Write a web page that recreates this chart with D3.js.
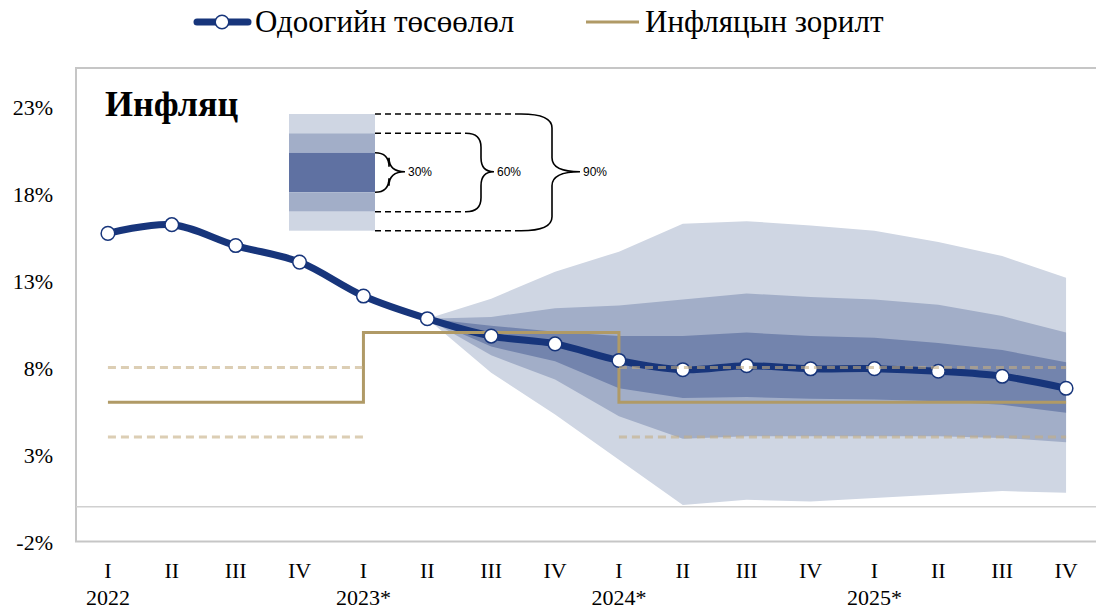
<!DOCTYPE html>
<html>
<head>
<meta charset="utf-8">
<script src="https://cdn.jsdelivr.net/npm/d3@7"></script>
<style>
  body { margin: 0; background: #fff; }
  svg { display: block; }
  text { font-family: "Liberation Serif", "Times New Roman", serif; fill: #000; }
</style>
</head>
<body>
<div id="chart"></div>
<script>
// quarters and year labels
let quarters = ["I", "II", "III", "IV", "I", "II", "III", "IV", "I", "II", "III", "IV", "I", "II", "III", "IV"];
let years = ["2022", "", "", "", "2023*", "", "", "", "2024*", "", "", "", "2025*", "", "", ""];

// current projection (%)
let forecast = [15.7, 16.2, 15.0, 14.05, 12.1, 10.8, 9.8, 9.35, 8.4, 7.87, 8.1, 7.92, 7.93, 7.78, 7.49, 6.8];

// inflation target and tolerance band (%)
let target = [6, 6, 6, 6, 10, 10, 10, 10, 6, 6, 6, 6, 6, 6, 6, 6];
let bandUpper = [8, 8, 8, 8, 8, null, null, null, 8, 8, 8, 8, 8, 8, 8, 8];
let bandLower = [4, 4, 4, 4, 4, null, null, null, 4, 4, 4, 4, 4, 4, 4, 4];

// fan chart, from 2023 II (index 5) to 2025 IV
let fanStart = 5;
let lo90 = [10.8, 7.7, 5.3, 2.7, 0.1, 0.4, 0.3, 0.5, 0.7, 0.9, 0.8];
let lo60 = [10.8, 8.7, 7.3, 5.2, 3.9, 4.05, 4.05, 4.05, 4.05, 3.95, 3.7];
let lo30 = [10.8, 9.2, 8.35, 6.8, 6.25, 6.3, 6.2, 6.15, 6.05, 5.85, 5.4];
let hi30 = [10.8, 10.4, 10.05, 9.8, 9.8, 10.0, 9.8, 9.7, 9.4, 9.0, 8.3];
let hi60 = [10.8, 10.9, 11.4, 11.55, 11.9, 12.25, 12.05, 11.9, 11.6, 10.95, 10.0];
let hi90 = [10.8, 11.95, 13.5, 14.65, 16.25, 16.4, 16.15, 15.85, 15.2, 14.4, 13.15];

let yTicks = [-2, 3, 8, 13, 18, 23];

let width = 1096, height = 609;
let plotLeft = 76, plotTop = 68, plotBottom = 541.5, plotRight = 1098;
let serif = "Liberation Serif";

let svg = d3.select("#chart").append("svg")
  .attr("width", width)
  .attr("height", height);

let idx = d3.range(quarters.length);

let x = d3.scalePoint()
  .domain(idx)
  .range([plotLeft, plotRight])
  .padding(0.5);

let y = d3.scaleLinear()
  .domain([-2, 25.2])
  .range([plotBottom, plotTop]);

// plot frame
svg.append("rect")
  .attr("x", plotLeft)
  .attr("y", plotTop)
  .attr("width", plotRight - plotLeft + 10)
  .attr("height", plotBottom - plotTop)
  .attr("fill", "none")
  .attr("stroke", "#c6c6c6")
  .attr("stroke-width", 2);

// zero line
svg.append("line")
  .attr("x1", plotLeft).attr("x2", plotRight)
  .attr("y1", y(0)).attr("y2", y(0))
  .attr("stroke", "#d0d0d0")
  .attr("stroke-width", 1.5);

// y axis labels
svg.append("g")
  .attr("transform", "translate(" + (plotLeft - 23) + ",0)")
  .call(d3.axisLeft(y).tickValues(yTicks).tickSize(0).tickFormat(d => d + "%"))
  .call(g => g.select(".domain").remove())
  .selectAll("text")
    .attr("x", 0)
    .attr("dy", "0.35em")
    .style("font-family", serif)
    .style("font-size", "22px")
    .style("fill", "#000");

// x axis labels
let xAxis = svg.append("g");
xAxis.selectAll(".q")
  .data(idx)
  .join("text")
    .attr("class", "q")
    .attr("x", d => x(d))
    .attr("y", 578)
    .attr("text-anchor", "middle")
    .style("font-family", serif)
    .style("font-size", "22px")
    .text(d => quarters[d]);
xAxis.selectAll(".yr")
  .data(idx.filter(d => years[d] !== ""))
  .join("text")
    .attr("class", "yr")
    .attr("x", d => x(d))
    .attr("y", 605)
    .attr("text-anchor", "middle")
    .style("font-family", serif)
    .style("font-size", "22px")
    .text(d => years[d]);

// fan chart
let fanIdx = d3.range(lo90.length);
function band(lo, hi, color) {
  let area = d3.area()
    .x(i => x(i + fanStart))
    .y0(i => y(lo[i]))
    .y1(i => y(hi[i]));
  svg.append("path")
    .datum(fanIdx)
    .attr("d", area)
    .attr("fill", color);
}
band(lo90, hi90, "#cfd6e3");
band(lo60, hi60, "#a2aec8");
band(lo30, hi30, "#7384ad");

// projection line
svg.append("path")
  .datum(idx)
  .attr("fill", "none")
  .attr("stroke", "#17357b")
  .attr("stroke-width", 7)
  .attr("stroke-linejoin", "round")
  .attr("d", d3.line()
    .x(i => x(i))
    .y(i => y(forecast[i]))
    .curve(d3.curveCatmullRom.alpha(0.5)));

// target line
svg.append("path")
  .datum(idx)
  .attr("fill", "none")
  .attr("stroke", "#b09a66")
  .attr("stroke-width", 3)
  .attr("d", d3.line()
    .x(i => x(i))
    .y(i => y(target[i]))
    .curve(d3.curveStepAfter));

// markers
svg.selectAll(".marker")
  .data(idx)
  .join("circle")
    .attr("class", "marker")
    .attr("cx", i => x(i))
    .attr("cy", i => y(forecast[i]))
    .attr("r", 6.8)
    .attr("fill", "#fff")
    .attr("stroke", "#17357b")
    .attr("stroke-width", 1.5);

// tolerance band (dashed)
[bandUpper, bandLower].forEach(vals => {
  svg.append("path")
    .datum(idx)
    .attr("fill", "none")
    .attr("stroke", "#c4ae82")
    .attr("stroke-opacity", 0.6)
    .attr("stroke-width", 3)
    .attr("stroke-dasharray", "8,5")
    .attr("d", d3.line()
      .defined(i => vals[i] !== null)
      .x(i => x(i))
      .y(i => y(vals[i])));
});

// title
svg.append("text")
  .attr("x", 105)
  .attr("y", 116)
  .style("font-family", serif)
  .style("font-size", "36px")
  .style("font-weight", "bold")
  .text("Инфляц");

// fan legend inset
let inset = svg.append("g");
let rx0 = 289, rx1 = 375;
let rows = [
  {y0: 114, y1: 133.3, c: "#cfd6e3"},
  {y0: 133.3, y1: 152.7, c: "#a2aec8"},
  {y0: 152.7, y1: 192.3, c: "#5f71a2"},
  {y0: 192.3, y1: 211.7, c: "#a2aec8"},
  {y0: 211.7, y1: 230.7, c: "#cfd6e3"}
];
inset.selectAll("rect")
  .data(rows)
  .join("rect")
    .attr("x", rx0)
    .attr("y", d => d.y0)
    .attr("width", rx1 - rx0)
    .attr("height", d => d.y1 - d.y0)
    .attr("fill", d => d.c);

let yMid = 171.7;
let braces = [
  {label: "30%", top: 152.7, bot: 192.3, xs: 375, xb: 389, xt: 405, dashed: false},
  {label: "60%", top: 133.3, bot: 211.7, xs: 466, xb: 481, xt: 494, dashed: true},
  {label: "90%", top: 114, bot: 230.7, xs: 521, xb: 552, xt: 580, dashed: true}
];
braces.forEach(b => {
  if (b.dashed) {
    [b.top, b.bot].forEach(yy => {
      inset.append("line")
        .attr("x1", rx1).attr("x2", b.xs)
        .attr("y1", yy).attr("y2", yy)
        .attr("stroke", "#000")
        .attr("stroke-width", 1.6)
        .attr("stroke-dasharray", "6,4");
    });
  }
  let r = Math.min(b.xb - b.xs, 14);
  let p = d3.path();
  p.moveTo(b.xs, b.top);
  p.quadraticCurveTo(b.xb, b.top, b.xb, b.top + r);
  p.lineTo(b.xb, yMid - r);
  p.quadraticCurveTo(b.xb, yMid, b.xt, yMid);
  p.quadraticCurveTo(b.xb, yMid, b.xb, yMid + r);
  p.lineTo(b.xb, b.bot - r);
  p.quadraticCurveTo(b.xb, b.bot, b.xs, b.bot);
  inset.append("path")
    .attr("d", p.toString())
    .attr("fill", "none")
    .attr("stroke", "#000")
    .attr("stroke-width", 1.6);
  inset.append("text")
    .attr("x", b.xt + 3)
    .attr("y", yMid + 4)
    .style("font-family", "Liberation Sans, Arial, sans-serif")
    .style("font-size", "12px")
    .text(b.label);
});

// legend
let legend = svg.append("g");
legend.append("line")
  .attr("x1", 197).attr("x2", 248)
  .attr("y1", 22).attr("y2", 22)
  .attr("stroke", "#17357b")
  .attr("stroke-width", 7)
  .attr("stroke-linecap", "round");
legend.append("circle")
  .attr("cx", 222).attr("cy", 22).attr("r", 6.8)
  .attr("fill", "#fff")
  .attr("stroke", "#17357b")
  .attr("stroke-width", 1.5);
legend.append("text")
  .attr("x", 255).attr("y", 32)
  .style("font-family", serif)
  .style("font-size", "31px")
  .text("Одоогийн төсөөлөл");
legend.append("line")
  .attr("x1", 586).attr("x2", 639)
  .attr("y1", 22).attr("y2", 22)
  .attr("stroke", "#b09a66")
  .attr("stroke-width", 3);
legend.append("text")
  .attr("x", 645).attr("y", 32)
  .style("font-family", serif)
  .style("font-size", "31px")
  .text("Инфляцын зорилт");
</script>
</body>
</html>
